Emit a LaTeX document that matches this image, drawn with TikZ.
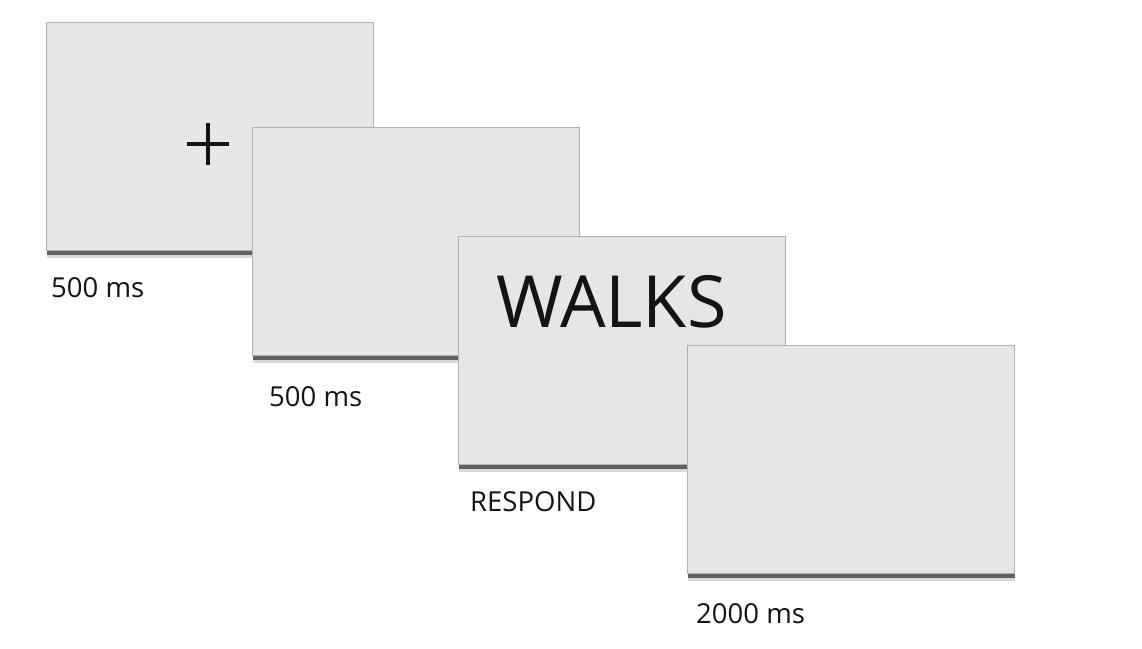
\documentclass[tikz,border=0pt]{standalone}
\usepackage{fontspec}
\setmainfont{Open Sans}
\usetikzlibrary{shadows}
\definecolor{screengray}{RGB}{229,230,230}
\definecolor{inkblack}{RGB}{20,20,20}
\begin{document}
\begin{tikzpicture}[x=1pt, y=-1pt,
    screen/.style={anchor=north west, rectangle, inner sep=0pt,
        minimum width=327pt, minimum height=228pt, fill=screengray,
        draw=black!30, line width=1.2pt,
        general shadow={shadow xshift=0pt, shadow yshift=-7pt, fill=black!25, opacity=0.6},
        drop shadow={shadow xshift=0.5pt, shadow yshift=-4.5pt, fill=black!70, opacity=0.85}},
    timing/.style={anchor=base west, font=\fontsize{27.5}{32}\selectfont, text=inkblack, inner sep=0pt}]
    \useasboundingbox[fill=white] (0,0) rectangle (1142,648);

    % screens, back to front
    \node[screen] (fix) at (46,22) {};
    \node[screen] (blank) at (252,127) {};
    \node[screen] (word) at (458,236) {};
    \node[screen] (wait) at (687,345) {};

    % fixation cross
    \coordinate (cross) at (208,144);
    \draw[inkblack, line width=3.6pt] ([xshift=-21pt]cross) -- ([xshift=21pt]cross);
    \draw[inkblack, line width=3.6pt] ([yshift=-21pt]cross) -- ([yshift=21pt]cross);

    \node[anchor=base west, inner sep=0pt, text=inkblack, font=\fontsize{72}{76}\selectfont] (walks) at (496,327) {WALKS};

    % durations
    \node[timing] (t1) at (51,297) {500 ms};
    \node[timing] (t2) at (269,406) {500 ms};
    \node[timing] (t3) at (470,511) {RESPOND};
    \node[timing] (t4) at (696,623) {2000 ms};
\end{tikzpicture}
\end{document}
